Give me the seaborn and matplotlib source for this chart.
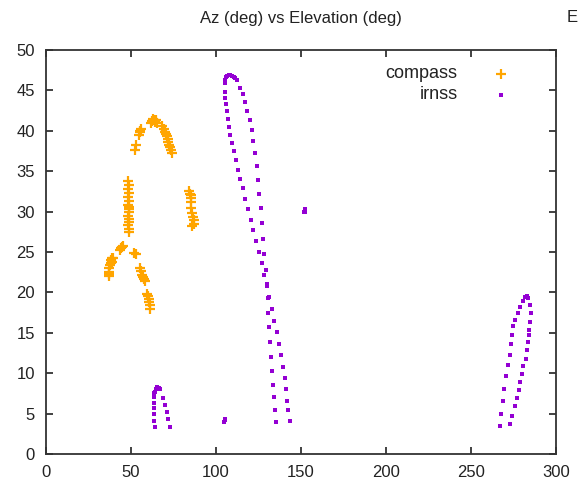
import matplotlib
matplotlib.use("Agg")
import matplotlib.pyplot as plt
import seaborn as sns
import pandas as pd

# ---------------- data ----------------
title = "Az (deg) vs Elevation (deg)"
second_title = "E"
series_names = ["compass", "irnss"]
x_ticks = [0, 50, 100, 150, 200, 250, 300]
y_ticks = [0, 5, 10, 15, 20, 25, 30, 35, 40, 45, 50]

compass_az = [36.8, 37.0, 37.3, 37.6, 38.0, 38.3, 38.8, 39.3, 37.2, 38.6,
              43.5, 44.0, 44.5, 45.0,
              48.4, 48.6, 48.5, 48.7, 48.4, 48.8, 48.5, 48.6, 48.7, 48.5, 48.6, 48.8, 48.5, 48.7, 48.6, 48.9,
              52.0, 52.8,
              55.5, 56.0, 56.5, 57.0, 57.5, 58.0,
              59.5, 60.0, 60.5, 60.8, 61.0, 61.2,
              52.4, 52.8, 54.5, 55.0, 55.5, 56.0, 62.0, 62.5, 63.0, 63.5, 64.0, 64.5, 65.0,
              68.5, 69.5, 70.0, 70.5, 71.0, 71.5, 72.0, 72.5, 73.0, 73.5, 74.0,
              84.0, 84.5, 85.0, 85.5, 85.2, 85.5, 85.8, 86.2, 86.8, 87.3, 86.0]
compass_el = [22.0, 22.5, 23.0, 23.4, 23.7, 24.0, 24.2, 24.3, 22.3, 23.8,
              25.3, 25.5, 25.6, 25.7,
              33.8, 33.3, 32.8, 32.3, 31.8, 31.3, 30.8, 30.3, 29.9, 29.5, 29.1, 28.7, 28.3, 27.9, 27.5, 30.6,
              24.9, 24.8,
              23.0, 22.6, 22.2, 21.9, 21.6, 21.4,
              19.8, 19.5, 19.2, 18.8, 18.4, 17.9,
              37.6, 38.2, 39.5, 39.8, 40.0, 40.2, 41.0, 41.2, 41.4, 41.3, 41.1, 41.3, 41.0,
              40.6, 40.2, 39.9, 39.6, 39.3, 39.0, 38.6, 38.3, 38.0, 37.6, 37.3,
              32.5, 32.2, 32.0, 31.7, 31.2, 30.5, 29.8, 29.3, 28.9, 28.5, 28.2]

irnss_az = [
    # small arc near az 65
    64.3, 63.5, 63.5, 63.5, 63.5, 63.5, 63.5, 64.1, 64.5, 65.5, 66.3, 67.1, 69.0, 70.0, 71.0, 71.9, 72.9,
    # isolated points
    104.8, 105.2, 105.0, 152.0, 152.6, 152.3,
    # big arc, first leg
    143.5, 142.5, 141.9, 141.2, 140.4, 139.2, 138.1, 137.1, 135.9, 134.1, 132.8, 131.2, 130.2, 128.4,
    126.9, 125.5, 123.5, 122.0, 120.4, 118.8, 117.3, 115.7, 114.3, 113.1, 111.6, 110.4, 109.4, 108.4,
    107.6, 106.9, 106.3, 105.7, 105.5, 105.3, 105.3, 105.5, 106.0, 106.7, 107.5, 108.5, 109.5, 110.5, 111.3,
    # big arc, second leg
    112.2, 114.1, 115.7, 117.1, 118.4, 120.0, 121.0, 122.0, 123.1, 124.1, 124.9, 125.5, 126.3, 127.1,
    127.8, 128.4, 129.4, 130.0, 130.6, 130.8, 131.4, 131.8, 132.5, 132.9, 133.4, 134.1, 134.7, 135.3,
    # arc near az 280, first leg
    267.1, 267.8, 268.6, 269.4, 270.6, 271.6, 272.9, 273.5, 274.3, 274.9, 275.9, 277.5, 278.8, 280.4,
    282.0, 282.7,
    # arc near az 280, second leg
    283.7, 284.7, 285.1, 284.7, 284.3, 283.9, 283.3, 282.7, 282.2, 280.8, 279.8, 278.8, 278.4, 277.3,
    275.9, 274.3, 272.9]
irnss_el = [
    3.4, 4.1, 4.9, 5.7, 6.3, 7.1, 7.5, 7.7, 8.1, 8.3, 8.2, 8.0, 6.9, 6.1, 5.2, 4.3, 3.4,
    4.0, 4.2, 4.3, 30.0, 30.3, 29.9,
    4.1, 5.4, 6.6, 8.0, 9.4, 10.8, 12.2, 13.6, 15.1, 16.5, 17.9, 19.4, 20.8, 22.2,
    23.6, 25.0, 26.4, 27.7, 29.0, 30.3, 31.6, 32.9, 34.0, 35.2, 36.4, 37.5, 38.5, 39.5,
    40.5, 41.5, 42.4, 43.3, 44.0, 44.8, 45.9, 46.3, 46.6, 46.8, 46.9, 46.9, 46.8, 46.6, 46.5,
    46.3, 45.3, 44.5, 43.6, 42.5, 41.3, 40.1, 38.7, 37.2, 35.6, 33.9, 32.2, 30.4, 28.6,
    26.6, 24.7, 22.8, 21.0, 19.3, 17.5, 15.7, 13.8, 12.0, 10.3, 8.6, 7.0, 5.4, 3.9,
    3.5, 5.0, 6.6, 8.1, 9.6, 11.0, 12.3, 13.6, 14.7, 15.8, 16.6, 17.4, 18.2, 18.9,
    19.4, 19.5,
    19.3, 18.4, 17.4, 16.3, 15.4, 14.7, 13.8, 12.9, 11.8, 10.9, 9.9, 8.9, 7.9, 6.9,
    5.9, 4.7, 3.7]

compass_df = pd.DataFrame({"az": compass_az, "el": compass_el})
irnss_df = pd.DataFrame({"az": irnss_az, "el": irnss_el})

# ---------------- style ----------------
sns.set_style("ticks")
plt.rcParams["font.family"] = ["Liberation Sans", "DejaVu Sans"]

fig = plt.figure(figsize=(5.8, 4.87), dpi=100)
ax = fig.add_axes([46 / 580, 1 - 454 / 487, 510 / 580, 404 / 487])

orange = "#FFA500"
purple = "#9400D3"
text_color = "#222222"

sns.scatterplot(data=compass_df, x="az", y="el", ax=ax, marker="+", color=orange,
                s=42, linewidth=1.6, label=series_names[0], zorder=3)
sns.scatterplot(data=irnss_df, x="az", y="el", ax=ax, marker="s", color=purple,
                s=12, linewidth=0, label=series_names[1], zorder=3)

ax.set_xlim(0, 300)
ax.set_ylim(0, 50)
ax.set_xticks(x_ticks)
ax.set_yticks(y_ticks)
ax.set_xlabel("")
ax.set_ylabel("")

for sp in ax.spines.values():
    sp.set_visible(True)
    sp.set_color("#333333")
    sp.set_linewidth(1.3)
ax.tick_params(direction="in", length=5, width=1.3, color="#333333",
               top=True, right=True, labelsize=12, labelcolor=text_color)
ax.tick_params(axis="x", pad=8)
ax.tick_params(axis="y", pad=8)

fig.text(301 / 580, 1 - 18 / 487, title, ha="center", va="center", fontsize=12, color=text_color)
fig.text(567 / 580, 1 - 18 / 487, second_title, ha="left", va="center", fontsize=12, color=text_color)

leg = ax.legend(loc="upper right", bbox_to_anchor=(0.927, 0.962), frameon=False,
                markerfirst=False, fontsize=13, handlelength=2.0, handletextpad=1.4,
                borderaxespad=0, borderpad=0, labelspacing=0.22)
for t in leg.get_texts():
    t.set_color(text_color)

fig.savefig("out.png", dpi=100)
